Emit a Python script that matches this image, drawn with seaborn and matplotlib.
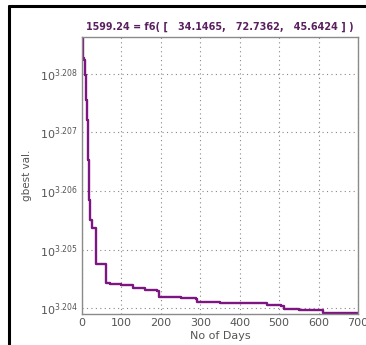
import numpy as np
import pandas as pd
import matplotlib
matplotlib.use("Agg")
import matplotlib.pyplot as plt
from matplotlib.lines import Line2D
import seaborn as sns

# ---- data ----
days = [0, 2, 5, 8, 10, 12, 14, 16, 18, 20, 22, 25, 30, 36, 40, 45, 55, 60, 70,
        100, 130, 160, 190, 195, 250, 288, 292, 350, 400, 450, 470, 505, 512,
        550, 605, 612, 650, 700]
gbest_exp = [3.20892, 3.20827, 3.20824, 3.20798, 3.20756, 3.20721, 3.20696,
             3.20653, 3.20585, 3.20550, 3.20550, 3.20537, 3.20537, 3.20475,
             3.20475, 3.20475, 3.20475, 3.20443, 3.20441, 3.20439, 3.20434,
             3.20431, 3.20429, 3.20419, 3.20418, 3.20416, 3.20410, 3.20409,
             3.20409, 3.20408, 3.20405, 3.20404, 3.20399, 3.20397, 3.20396,
             3.20392, 3.20391, 3.20391]
ytick_exp = [3.204, 3.205, 3.206, 3.207, 3.208]
xticks = [0, 100, 200, 300, 400, 500, 600, 700]
title = "1599.24 = f6( [   34.1465,   72.7362,   45.6424 ] )"

df = pd.DataFrame({"day": days, "gbest": 10 ** np.array(gbest_exp)})

sns.set_theme(style="white")
plt.rcParams["font.family"] = ["DejaVu Sans"]

fig = plt.figure(figsize=(3.66, 3.45), dpi=100)
ax = fig.add_axes([0.224, 0.090, 0.754, 0.803])

sns.lineplot(data=df, x="day", y="gbest", ax=ax, color="#7d1680",
             linewidth=1.7, drawstyle="steps-post")

ax.set_yscale("log")
ax.set_xlim(0, 700)
ax.set_ylim(10 ** 3.20390, 10 ** 3.20863)
ax.set_yticks([10 ** e for e in ytick_exp])
ax.set_yticklabels([r"$10^{%s}$" % e for e in ytick_exp])
ax.yaxis.set_minor_locator(matplotlib.ticker.NullLocator())
ax.set_xticks(xticks)
ax.set_xticklabels([str(t) for t in xticks])

ax.grid(True, linestyle=(0, (1, 3)), color="#888888", linewidth=0.8)
for s in ax.spines.values():
    s.set_color("#8a8a8a")
    s.set_linewidth(1.0)
ax.tick_params(axis="both", which="both", direction="in", length=3,
               colors="#8a8a8a", labelcolor="#555555", labelsize=8, pad=3)

ax.set_xlabel("No of Days", fontsize=8, color="#555555", labelpad=2)
ax.set_ylabel("gbest val.", fontsize=7.5, color="#555555", labelpad=6)
ax.set_title(title, fontsize=6.9, fontweight="bold", color="#5a1f5e", pad=5)

# outer frame (left and top visible)
fig.add_artist(Line2D([9 / 366, 9 / 366], [0, 1 - 6 / 345],
                      transform=fig.transFigure, color="black", linewidth=2.2))
fig.add_artist(Line2D([9 / 366, 1], [1 - 6 / 345, 1 - 6 / 345],
                      transform=fig.transFigure, color="black", linewidth=2.2))

fig.savefig("out.png", dpi=100)
